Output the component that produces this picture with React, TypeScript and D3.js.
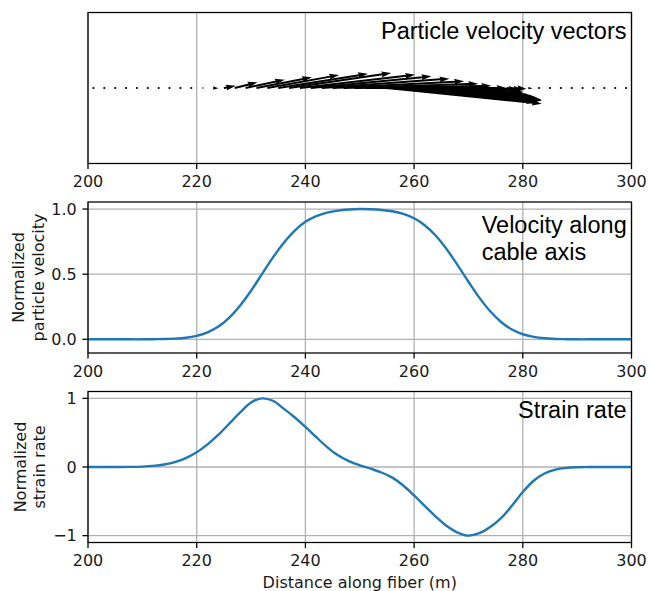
import React from 'react';
import * as d3 from 'd3';

// ---------- data ----------
const xTicks = [200, 220, 240, 260, 280, 300];
const xTickLabels = ['200', '220', '240', '260', '280', '300'];
const velTicks = [0, 0.5, 1];
const velTickLabels = ['0.0', '0.5', '1.0'];
const strainTicks = [-1, 0, 1];
const strainTickLabels = ['\u22121', '0', '1'];

// sampling grid along the fiber (m)
const sampleX = d3.range(200, 301, 2);

// normalized particle velocity along cable axis
const velocity = [
  0, 0, 0, 0, 0, 0, 0.001, 0.002, 0.005, 0.012,
  0.027, 0.054, 0.098, 0.167, 0.26, 0.373, 0.5, 0.627, 0.74, 0.833,
  0.902, 0.946, 0.973, 0.988, 0.996, 1.0, 0.998, 0.993, 0.983, 0.963,
  0.929, 0.874, 0.795, 0.691, 0.57, 0.442, 0.32, 0.215, 0.133, 0.075,
  0.039, 0.019, 0.008, 0.003, 0.001, 0, 0, 0, 0, 0, 0,
];

// normalized strain rate
const strainRate = [
  0, 0, 0, 0, 0.002, 0.006, 0.016, 0.036, 0.072, 0.13,
  0.215, 0.33, 0.47, 0.633, 0.795, 0.94, 1.0, 0.965, 0.85, 0.725,
  0.585, 0.435, 0.29, 0.17, 0.085, 0.025, -0.025, -0.08, -0.155, -0.27,
  -0.415, -0.57, -0.725, -0.86, -0.955, -1.0, -0.965, -0.875, -0.745, -0.565,
  -0.365, -0.2, -0.095, -0.038, -0.012, -0.003, -0.001, 0, 0, 0, 0,
];

// particle velocity vectors (quiver): tails along the fiber
const arrowTail = d3.range(201, 300, 2);
// horizontal component (m)
const arrowU = [
  0, 0, 0, 0, 0, 0, 0, 0, 0, 0,
  0.4, 1.0, 2.2, 4.2, 7.2, 10.2, 13.2, 16.5, 18.8, 21.2,
  22.2, 23.5, 24.2, 24.8, 25.2, 26.0, 26.2, 28.5, 25.5, 24.0,
  22.5, 20.5, 18.3, 15.8, 13.0, 10.0, 7.2, 5.0, 3.1, 1.7,
  0.8, 0.3, 0, 0, 0, 0, 0, 0, 0, 0,
];
// vertical component (axis units, axis spans -1..1)
const arrowV = [
  0, 0, 0, 0, 0, 0, 0, 0, 0, 0,
  0, -0.004, 0.03, 0.075, 0.11, 0.142, 0.172, 0.189, 0.199, 0.176,
  0.155, 0.123, 0.089, 0.057, 0.03, 0, -0.013, -0.207, -0.185, -0.172,
  -0.166, -0.159, -0.152, -0.139, -0.119, -0.099, -0.073, -0.046, -0.026, -0.013,
  -0.005, 0, 0, 0, 0, 0, 0, 0, 0, 0,
];

// ---------- layout ----------
const W = 649;
const H = 591;
const LEFT = 88;
const RIGHT = 631.5;
const PANEL_H = 151;
const TOPS = [12.5, 202, 391.5];

const FONT = 'DejaVu Sans, sans-serif';
const TITLE_FONT = 'Liberation Sans, Arial, Helvetica, sans-serif';
const BLUE = '#1f77b4';
const GRID = '#b0b0b0';
const TICK_LEN = 5.6;
const LW = 1.28;

const x = d3.scaleLinear().domain([200, 300]).range([LEFT, RIGHT]);

function arrowPolygon(x0: number, y0: number, dx: number, dy: number): string | null {
  const L = Math.hypot(dx, dy);
  const w = 2.0;
  const hl = 5 * w;
  const hal = 4.5 * w;
  const hw = 3 * w;
  if (L < w) return null;
  let pts: [number, number][];
  if (L >= hl) {
    pts = [
      [0, -w / 2], [L - hal, -w / 2], [L - hl, -hw / 2], [L, 0],
      [L - hl, hw / 2], [L - hal, w / 2], [0, w / 2],
    ];
  } else {
    const s = L / hl;
    pts = [
      [0, -w / 2], [hl - hal, -w / 2], [0, -hw / 2], [hl, 0],
      [0, hw / 2], [hl - hal, w / 2], [0, w / 2],
    ].map(([a, b]) => [a * s, b * s] as [number, number]);
  }
  const ang = Math.atan2(dy, dx);
  const c = Math.cos(ang);
  const sn = Math.sin(ang);
  return pts
    .map(([a, b]) => `${(x0 + a * c - b * sn).toFixed(2)},${(y0 + a * sn + b * c).toFixed(2)}`)
    .join(' ');
}

function XAxis({ bottom }: { bottom: number }) {
  return (
    <g>
      {xTicks.map((t, i) => (
        <g key={t}>
          <line x1={x(t)} x2={x(t)} y1={bottom} y2={bottom + TICK_LEN} stroke="#000" strokeWidth={LW} />
          <text x={x(t)} y={bottom + 23.5} textAnchor="middle" fontFamily={FONT} fontSize={16} fill="#1a1a1a">
            {xTickLabels[i]}
          </text>
        </g>
      ))}
    </g>
  );
}

function Frame({ top }: { top: number }) {
  return (
    <rect x={LEFT} y={top} width={RIGHT - LEFT} height={PANEL_H} fill="none" stroke="#000" strokeWidth={LW} />
  );
}

function VGrid({ top }: { top: number }) {
  return (
    <g>
      {xTicks.map((t) => (
        <line key={t} x1={x(t)} x2={x(t)} y1={top} y2={top + PANEL_H} stroke={GRID} strokeWidth={LW} />
      ))}
    </g>
  );
}

function LinePanel({
  top, domain, ticks, tickLabels, values, labelLines, labelX, title, titleAnchor, titleX, titleY,
}: {
  top: number; domain: [number, number]; ticks: number[]; tickLabels: string[]; values: number[];
  labelLines: string[]; labelX: number[]; title: string[]; titleAnchor: 'start' | 'end'; titleX: number; titleY: number[];
}) {
  const y = d3.scaleLinear().domain(domain).range([top + PANEL_H, top]);
  const line = d3
    .line<number>()
    .x((_, i) => x(sampleX[i]))
    .y((d) => y(d))
    .curve(d3.curveCatmullRom.alpha(0.5));
  const cy = top + PANEL_H / 2;
  return (
    <g>
      <VGrid top={top} />
      {ticks.map((t) => (
        <line key={t} x1={LEFT} x2={RIGHT} y1={y(t)} y2={y(t)} stroke={GRID} strokeWidth={LW} />
      ))}
      <defs>
        <clipPath id={`clip${top}`}>
          <rect x={LEFT} y={top} width={RIGHT - LEFT} height={PANEL_H} />
        </clipPath>
      </defs>
      <path d={line(values) || ''} fill="none" stroke={BLUE} strokeWidth={2.4} clipPath={`url(#clip${top})`} />
      {title.map((s, i) => (
        <text key={s} x={titleX} y={titleY[i]} textAnchor={titleAnchor} fontFamily={TITLE_FONT} fontSize={23.5} fill="#000">
          {s}
        </text>
      ))}
      <Frame top={top} />
      {ticks.map((t, i) => (
        <g key={t}>
          <line x1={LEFT - TICK_LEN} x2={LEFT} y1={y(t)} y2={y(t)} stroke="#000" strokeWidth={LW} />
          <text x={LEFT - 11.2} y={y(t) + 5.8} textAnchor="end" fontFamily={FONT} fontSize={16} fill="#1a1a1a">
            {tickLabels[i]}
          </text>
        </g>
      ))}
      {labelLines.map((s, i) => (
        <text
          key={s}
          transform={`translate(${labelX[i]},${cy}) rotate(-90)`}
          textAnchor="middle"
          fontFamily={FONT}
          fontSize={16}
          fill="#1a1a1a"
        >
          {s}
        </text>
      ))}
      <XAxis bottom={top + PANEL_H} />
    </g>
  );
}

function QuiverPanel({ top }: { top: number }) {
  const y = d3.scaleLinear().domain([-1, 1]).range([top + PANEL_H, top]);
  const y0 = y(0);
  return (
    <g>
      <VGrid top={top} />
      {arrowTail.map((t, i) => {
        const x0 = x(t);
        const dx = x(t + arrowU[i]) - x0;
        const dy = y(arrowV[i]) - y0;
        const poly = arrowPolygon(x0, y0, dx, dy);
        if (!poly) return <circle key={t} cx={x0} cy={y0} r={1.1} fill="#000" />;
        return <polygon key={t} points={poly} fill="#000" />;
      })}
      <text x={626.5} y={top + 26.5} textAnchor="end" fontFamily={TITLE_FONT} fontSize={23.5} fill="#000">
        Particle velocity vectors
      </text>
      <Frame top={top} />
      <XAxis bottom={top + PANEL_H} />
    </g>
  );
}

export default function App() {
  return (
    <svg
      width={W}
      height={H}
      viewBox={`0 0 ${W} ${H}`}
      style={{ position: 'absolute', left: 0, top: 0, background: '#fff' }}
    >
      <rect x={0} y={0} width={W} height={H} fill="#fff" />
      <QuiverPanel top={TOPS[0]} />
      <LinePanel
        top={TOPS[1]}
        domain={[-0.105, 1.054]}
        ticks={velTicks}
        tickLabels={velTickLabels}
        values={velocity}
        labelLines={['Normalized', 'particle velocity']}
        labelX={[24, 43.5]}
        title={['Velocity along', 'cable axis']}
        titleAnchor="start"
        titleX={481.7}
        titleY={[233.3, 260]}
      />
      <LinePanel
        top={TOPS[2]}
        domain={[-1.1, 1.1]}
        ticks={strainTicks}
        tickLabels={strainTickLabels}
        values={strainRate}
        labelLines={['Normalized', 'strain rate']}
        labelX={[25.5, 45]}
        title={['Strain rate']}
        titleAnchor="end"
        titleX={626.5}
        titleY={[418.3]}
      />
      <text x={(LEFT + RIGHT) / 2} y={588} textAnchor="middle" fontFamily={FONT} fontSize={16} fill="#1a1a1a">
        Distance along fiber (m)
      </text>
    </svg>
  );
}
